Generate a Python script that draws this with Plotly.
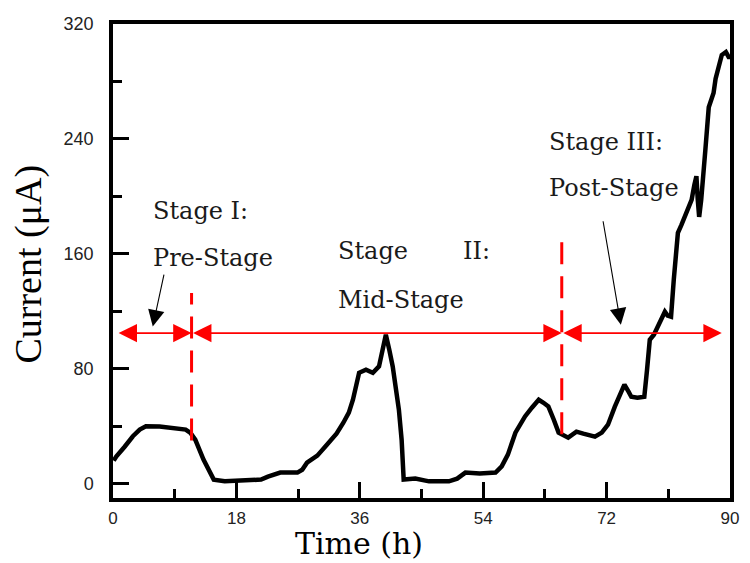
import plotly.graph_objects as go

# ---- data ----
time_h = [0.1, 0.5, 1.7, 2.9, 3.9, 4.8, 6.8, 9.6, 10.6, 11.3, 12.0, 13.2, 14.7, 16.3, 19.0,
          21.6, 22.6, 24.4, 26.9, 27.6, 28.3, 29.8, 31.2, 32.6, 33.6, 34.4, 35.0, 35.5, 35.9,
          36.9, 37.9, 38.8, 39.2, 39.8, 40.3, 40.8, 41.7, 42.1, 42.4, 42.7, 44.1, 46.1, 49.0,
          50.2, 51.4, 53.5, 55.8, 56.7, 57.6, 58.7, 60.1, 61.1, 62.1, 62.8, 63.5, 64.3, 65.0,
          66.4, 67.6, 68.6, 70.3, 71.3, 72.2, 73.2, 74.6, 75.2, 75.6, 76.5, 77.5, 77.9, 78.3,
          78.9, 79.5, 80.5, 80.9, 81.4, 81.8, 82.4, 82.9, 83.6, 84.4, 84.8, 85.1, 85.3, 85.5,
          85.8, 86.0, 86.4, 86.9, 87.4, 87.6, 87.9, 88.4, 88.8, 89.4, 89.8, 90.0]
current_uA = [16, 19, 25.7, 33, 37.6, 39.9, 39.7, 38.7, 37.6, 35.3, 30.6, 16.7, 2.8, 1.6, 2.1,
              2.8, 4.9, 7.7, 7.7, 9.7, 14.6, 19.5, 27, 34.8, 42.4, 49.4, 58.4, 68.9, 77.2,
              79.3, 77.2, 81.6, 91.8, 103.7, 93.2, 81.6, 51.5, 30.6, 2.8, 2.8, 3.5, 1.6, 1.6,
              3.5, 7.7, 7.0, 7.7, 12, 20.2, 35.5, 46.8, 52.9, 58.4, 56.3, 53.8, 44.5, 35.5,
              32, 36.2, 34.8, 32.7, 35.5, 41, 53.6, 68.9, 64, 60.5, 59.8, 60.5, 79.3, 100.2,
              103.7, 109.2, 119.7, 117, 116.2, 142, 174.6, 180, 189.2, 197.6, 208, 214, 197.6, 185.7,
              197.6, 206.6, 232, 262, 270.6, 272, 282, 292.9, 298.4, 300.5, 297, 297]

x_ticks = [0, 18, 36, 54, 72, 90]
y_ticks = [0, 80, 160, 240, 320]
stage_bounds = [0.6, 11.46, 65.46, 88.8]
arrow_level = 104.8
divider_x = [11.46, 65.46]
divider_top = [132.7, 174.4]
divider_bottom = [30.0, 34.4]

labels = [
    ("Stage I:", 5.56, 190),
    ("Pre-Stage", 5.56, 157),
    ("Stage", 32.46, 162),
    ("II:", 50.8, 162),
    ("Mid-Stage", 32.46, 128),
    ("Stage III:", 63.3, 238),
    ("Post-Stage", 63.3, 206),
]
pointer_arrows = [((7.48, 146.6), (5.8, 109.4)), ((71.45, 183.7), (74.08, 110.6))]

fig = go.Figure()
fig.add_trace(go.Scatter(x=time_h, y=current_uA, mode="lines",
                         line=dict(color="black", width=4.5), showlegend=False))

annotations = []
# red double-headed arrows
for a, b in zip(stage_bounds[:-1], stage_bounds[1:]):
    annotations.append(dict(x=b, y=arrow_level, ax=a, ay=arrow_level, xref="x", yref="y",
                            axref="x", ayref="y", showarrow=True, arrowside="end+start",
                            arrowhead=2, arrowsize=2.3, arrowwidth=1.6, arrowcolor="#ff0000",
                            standoff=0, startstandoff=0, text=""))
# black pointer arrows
for (tx, ty), (hx, hy) in pointer_arrows:
    annotations.append(dict(x=hx, y=hy, ax=tx, ay=ty, xref="x", yref="y", axref="x",
                            ayref="y", showarrow=True, arrowhead=2, arrowsize=3,
                            arrowwidth=1.1, arrowcolor="black", text=""))
# stage texts
for txt, lx, ly in labels:
    annotations.append(dict(x=lx, y=ly, xref="x", yref="y", text=txt, showarrow=False,
                            xanchor="left", yanchor="middle",
                            font=dict(family="DejaVu Serif", size=24, color="#1a1a1a")))
# axis titles
annotations.append(dict(x=-0.1366, y=0.494, xref="paper", yref="paper", text="Current (μA)",
                        textangle=-90, showarrow=False, xanchor="center", yanchor="middle",
                        font=dict(family="Liberation Serif", size=38, color="black")))
annotations.append(dict(x=0.398, y=-0.135, xref="paper", yref="paper", text="Time (h)",
                        showarrow=False, xanchor="center", yanchor="bottom", borderpad=0,
                        font=dict(family="DejaVu Serif", size=30, color="black")))

shapes = []
for dx, t, b in zip(divider_x, divider_top, divider_bottom):
    shapes.append(dict(type="line", x0=dx, x1=dx, y0=b, y1=t, xref="x", yref="y",
                       line=dict(color="#ff0000", width=3, dash="22px,12px")))

fig.update_layout(
    width=750, height=563,
    margin=dict(l=113, r=11, t=24, b=65),
    paper_bgcolor="white", plot_bgcolor="white",
    annotations=annotations, shapes=shapes,
    xaxis=dict(range=[0, 90], tickvals=x_ticks, ticktext=[str(v) for v in x_ticks],
               ticks="inside", ticklen=16, tickwidth=3, tickcolor="black",
               showline=True, linecolor="black", linewidth=3.5, mirror=True,
               showgrid=False, zeroline=False, ticklabelstandoff=2,
               tickfont=dict(family="Liberation Sans", size=17, color="#222"),
               minor=dict(tickvals=[9, 27, 45, 63, 81], ticks="inside", ticklen=9,
                          tickwidth=3, tickcolor="black", showgrid=False)),
    yaxis=dict(range=[-10, 320], tickvals=y_ticks, ticktext=[str(v) for v in y_ticks],
               ticks="inside", ticklen=16, tickwidth=3, tickcolor="black",
               showline=True, linecolor="black", linewidth=3.5, mirror=True,
               showgrid=False, zeroline=False, ticklabelstandoff=12,
               tickfont=dict(family="Liberation Sans", size=18, color="#222"),
               minor=dict(tickvals=[40, 120, 200, 280], ticks="inside", ticklen=9,
                          tickwidth=3, tickcolor="black", showgrid=False)),
)

fig.write_html("out.html")
